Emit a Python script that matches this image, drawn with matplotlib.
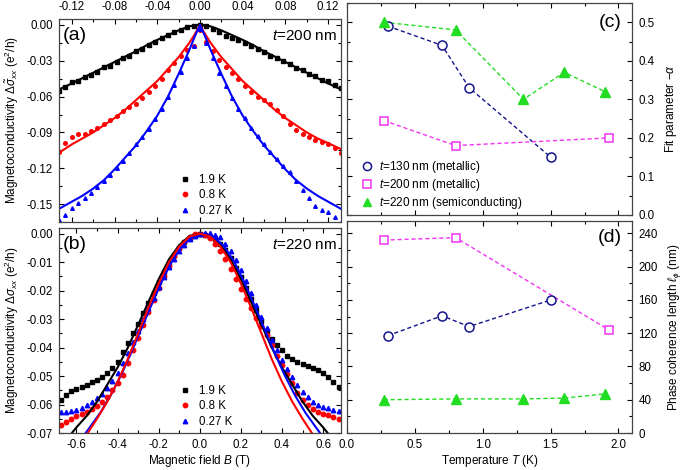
import matplotlib
matplotlib.use("Agg")
import matplotlib.pyplot as plt
from matplotlib.ticker import MultipleLocator, FormatStrFormatter

plt.rcParams['font.family'] = ['Liberation Sans', 'DejaVu Sans']
plt.rcParams['mathtext.fontset'] = 'custom'
plt.rcParams['mathtext.rm'] = 'Liberation Sans'
plt.rcParams['mathtext.it'] = 'Liberation Sans:italic'
plt.rcParams['mathtext.bf'] = 'Liberation Sans:bold'
plt.rcParams['axes.unicode_minus'] = False

# ---- panel (a): t = 200 nm, data -----------------------------------------
field_a = [-0.132, -0.126, -0.120, -0.114, -0.108, -0.102, -0.096, -0.090, -0.084,
           -0.078, -0.072, -0.066, -0.060, -0.054, -0.048, -0.042, -0.036, -0.030,
           -0.024, -0.018, -0.012, -0.006, 0.000, 0.006, 0.012, 0.018, 0.024, 0.030,
           0.036, 0.042, 0.048, 0.054, 0.060, 0.066, 0.072, 0.078, 0.084, 0.090,
           0.096, 0.102, 0.108, 0.114, 0.120, 0.126, 0.132]
a_19K = [-0.055, -0.052, -0.048, -0.047, -0.044, -0.042, -0.039, -0.035, -0.034,
         -0.031, -0.028, -0.026, -0.022, -0.020, -0.017, -0.014, -0.011, -0.008,
         -0.006, -0.004, -0.002, -0.001, 0.000, -0.001, -0.003, -0.006, -0.009, -0.011,
         -0.013, -0.015, -0.018, -0.020, -0.023, -0.026, -0.028, -0.030, -0.033, -0.036,
         -0.038, -0.041, -0.043, -0.046, -0.047, -0.050, -0.053]
a_08K = [-0.106, -0.099, -0.094, -0.091, -0.091, -0.089, -0.086, -0.083, -0.080,
         -0.076, -0.072, -0.069, -0.066, -0.061, -0.056, -0.051, -0.045, -0.038,
         -0.032, -0.026, -0.021, -0.018, -0.004, -0.014, -0.022, -0.029, -0.035, -0.040,
         -0.045, -0.051, -0.056, -0.060, -0.063, -0.066, -0.071, -0.076, -0.083, -0.088,
         -0.091, -0.094, -0.096, -0.098, -0.100, -0.103, -0.107]
a_027K = [-0.163, -0.159, -0.153, -0.149, -0.145, -0.141, -0.136, -0.131, -0.126,
          -0.120, -0.114, -0.107, -0.100, -0.094, -0.087, -0.079, -0.070, -0.060,
          -0.050, -0.039, -0.028, -0.018, -0.003, -0.015, -0.028, -0.040, -0.051, -0.061,
          -0.070, -0.078, -0.086, -0.093, -0.100, -0.106, -0.112, -0.118, -0.123, -0.131,
          -0.138, -0.145, -0.152, -0.155, -0.157, -0.161, -0.166]

# fits (a)
fit_field_a = [-0.132, -0.12, -0.11, -0.10, -0.09, -0.08, -0.07, -0.06, -0.05, -0.04,
               -0.03, -0.02, -0.01, -0.005, 0.0, 0.005, 0.01, 0.02, 0.03, 0.04, 0.05,
               0.06, 0.07, 0.08, 0.09, 0.10, 0.11, 0.12, 0.132]
fit_a_19K = [-0.054, -0.049, -0.0445, -0.040, -0.0355, -0.031, -0.0265, -0.022, -0.017,
             -0.0125, -0.0085, -0.0045, -0.0012, -0.0003, 0.0, -0.0003, -0.0012, -0.0045,
             -0.0085, -0.0125, -0.017, -0.022, -0.0265, -0.031, -0.0355, -0.040, -0.0445,
             -0.049, -0.054]
fit_a_08K = [-0.107, -0.100, -0.095, -0.090, -0.084, -0.078, -0.071, -0.063, -0.055,
             -0.047, -0.037, -0.027, -0.015, -0.008, 0.0, -0.008, -0.015, -0.027, -0.037,
             -0.047, -0.055, -0.063, -0.071, -0.078, -0.084, -0.090, -0.095, -0.099, -0.104]
fit_a_027K = [-0.154, -0.148, -0.143, -0.137, -0.130, -0.121, -0.111, -0.101, -0.089,
              -0.076, -0.060, -0.041, -0.021, -0.010, 0.0, -0.010, -0.021, -0.041, -0.060,
              -0.076, -0.089, -0.101, -0.111, -0.121, -0.130, -0.137, -0.143, -0.148, -0.154]

# ---- panel (b): t = 220 nm, data -----------------------------------------
field_b = [-0.675, -0.650, -0.625, -0.600, -0.575, -0.550, -0.525, -0.500, -0.475,
           -0.450, -0.425, -0.400, -0.375, -0.350, -0.325, -0.300, -0.275, -0.250,
           -0.225, -0.200, -0.175, -0.150, -0.125, -0.100, -0.075, -0.050, -0.025,
           0.000, 0.025, 0.050, 0.075, 0.100, 0.125, 0.150, 0.175, 0.200, 0.225,
           0.250, 0.275, 0.300, 0.325, 0.350, 0.375, 0.400, 0.425, 0.450, 0.475,
           0.500, 0.525, 0.550, 0.575, 0.600, 0.625, 0.650, 0.675]
b_19K = [-0.0583, -0.0565, -0.0553, -0.0545, -0.0537, -0.0530, -0.0522, -0.0514, -0.0503,
         -0.0490, -0.0472, -0.0450, -0.0415, -0.0385, -0.0350, -0.0318, -0.0280, -0.0245,
         -0.0207, -0.0170, -0.0133, -0.0102, -0.0075, -0.0050, -0.0030, -0.0015, -0.0005,
         0.0000, -0.0003, -0.0010, -0.0020, -0.0035, -0.0058, -0.0086, -0.0120, -0.0152,
         -0.0190, -0.0228, -0.0268, -0.0305, -0.0340, -0.0370, -0.0392, -0.0410, -0.0428,
         -0.0440, -0.0450, -0.0458, -0.0465, -0.0472, -0.0480, -0.0490, -0.0505, -0.0520,
         -0.0540]
b_08K = [-0.0672, -0.0662, -0.0652, -0.0642, -0.0634, -0.0626, -0.0616, -0.0605, -0.0590,
         -0.0572, -0.0550, -0.0523, -0.0495, -0.0455, -0.0410, -0.0365, -0.0320, -0.0275,
         -0.0232, -0.0190, -0.0150, -0.0112, -0.0080, -0.0052, -0.0030, -0.0012, -0.0002,
         -0.0002, -0.0005, -0.0015, -0.0035, -0.0060, -0.0090, -0.0123, -0.0158, -0.0195,
         -0.0228, -0.0260, -0.0295, -0.0325, -0.0357, -0.0392, -0.0428, -0.0462, -0.0492,
         -0.0525, -0.0560, -0.0585, -0.0602, -0.0615, -0.0625, -0.0632, -0.0638, -0.0643,
         -0.0650]
b_027K = [-0.0627, -0.0625, -0.0622, -0.0618, -0.0612, -0.0603, -0.0592, -0.0578, -0.0562,
          -0.0542, -0.0518, -0.0490, -0.0455, -0.0418, -0.0380, -0.0340, -0.0300, -0.0262,
          -0.0225, -0.0188, -0.0152, -0.0118, -0.0088, -0.0060, -0.0038, -0.0020, -0.0008,
          0.0000, 0.0002, 0.0002, -0.0003, -0.0012, -0.0035, -0.0060, -0.0092, -0.0128,
          -0.0165, -0.0210, -0.0250, -0.0292, -0.0332, -0.0372, -0.0408, -0.0442, -0.0475,
          -0.0505, -0.0532, -0.0556, -0.0575, -0.0590, -0.0600, -0.0608, -0.0613, -0.0618,
          -0.0622]

# fits (b)
fit_field_b = [-0.65, -0.60, -0.55, -0.50, -0.45, -0.40, -0.35, -0.30, -0.25, -0.20,
               -0.15, -0.10, -0.05, 0.0, 0.05, 0.10, 0.15, 0.20, 0.25, 0.30, 0.35,
               0.40, 0.45, 0.50, 0.55, 0.60, 0.65]
fit_b_19K = [-0.0725, -0.068, -0.064, -0.059, -0.053, -0.047, -0.040, -0.032, -0.024,
             -0.016, -0.009, -0.004, -0.0008, 0.0, -0.0008, -0.004, -0.009, -0.016, -0.024,
             -0.032, -0.040, -0.047, -0.053, -0.059, -0.064, -0.068, -0.0725]
fit_b_08K = [-0.082, -0.076, -0.0705, -0.065, -0.059, -0.052, -0.044, -0.035, -0.026,
             -0.0175, -0.010, -0.0045, -0.001, 0.0, -0.001, -0.0045, -0.010, -0.0175,
             -0.026, -0.035, -0.044, -0.052, -0.059, -0.065, -0.0705, -0.076, -0.082]
fit_field_b_027K = [-0.635, -0.585, -0.535, -0.485, -0.435, -0.385, -0.335, -0.285,
                    -0.235, -0.185, -0.135, -0.085, -0.035, 0.015, 0.065, 0.115, 0.165,
                    0.215, 0.265, 0.315, 0.365, 0.415, 0.465, 0.515, 0.565, 0.615, 0.665]
fit_b_027K = [-0.078, -0.073, -0.068, -0.063, -0.057, -0.050, -0.042, -0.0335, -0.025,
              -0.0168, -0.0095, -0.0042, -0.001, 0.0, -0.001, -0.0042, -0.0095, -0.0168,
              -0.025, -0.0335, -0.042, -0.050, -0.057, -0.063, -0.068, -0.073, -0.078]

# ---- panels (c), (d) ------------------------------------------------------
T_130 = [0.3, 0.7, 0.9, 1.5]
alpha_130 = [0.49, 0.44, 0.33, 0.15]
lphi_130 = [117, 141, 128, 160]
T_200 = [0.27, 0.8, 1.93]
alpha_200 = [0.245, 0.18, 0.2]
lphi_200 = [232, 235, 124]
T_220 = [0.27, 0.8, 1.3, 1.6, 1.9]
alpha_220 = [0.5, 0.48, 0.3, 0.37, 0.32]
lphi_220 = [40, 41, 41, 42, 47]

navy = '#14148c'
magenta = '#f034f0'
green = '#22dd22'

fig = plt.figure(figsize=(6.85, 4.70), dpi=100)
ax_a = fig.add_axes([0.0861, 0.5277, 0.4117, 0.4319])
ax_b = fig.add_axes([0.0861, 0.0787, 0.4117, 0.4362])
ax_c = fig.add_axes([0.5066, 0.5426, 0.4161, 0.4511])
ax_d = fig.add_axes([0.5066, 0.0787, 0.4161, 0.4511])

for ax in (ax_a, ax_b, ax_c, ax_d):
    ax.tick_params(which='both', direction='in', top=True, right=True,
                   labelsize=8.3, width=0.8)
    ax.tick_params(which='major', length=3.5, pad=4.5)
    ax.tick_params(which='minor', length=2)
    for s in ax.spines.values():
        s.set_linewidth(0.9)
        s.set_color('#444444')

ms_a = 2.6
ax_a.plot(field_a, a_19K, 's', color='black', ms=ms_a, label='1.9 K')
ax_a.plot(field_a, a_08K, 'o', color='red', ms=ms_a, label='0.8 K')
ax_a.plot(field_a, a_027K, '^', color='blue', ms=ms_a, label='0.27 K')
ax_a.plot(fit_field_a, fit_a_19K, '-', color='black', lw=1.5)
ax_a.plot(fit_field_a, fit_a_08K, '-', color='red', lw=1.5)
ax_a.plot(fit_field_a, fit_a_027K, '-', color='blue', lw=1.5)
ax_a.set_xlim(-0.132, 0.132)
ax_a.set_ylim(-0.165, 0.005)
ax_a.xaxis.set_major_locator(MultipleLocator(0.04))
ax_a.xaxis.set_minor_locator(MultipleLocator(0.02))
ax_a.yaxis.set_major_locator(MultipleLocator(0.03))
ax_a.yaxis.set_minor_locator(MultipleLocator(0.015))
ax_a.xaxis.set_major_formatter(FormatStrFormatter('%.2f'))
ax_a.yaxis.set_major_formatter(FormatStrFormatter('%.2f'))
ax_a.tick_params(labeltop=True, labelbottom=False)
ax_a.set_ylabel(r'Magnetoconductivity $\Delta\tilde{\sigma}_{xx}$ (e$^2$/h)', fontsize=8.5)
ax_a.text(0.014, 0.92, '(a)', transform=ax_a.transAxes, fontsize=14, va='center')
ax_a.text(0.985, 0.915, r'$t$=200 nm', transform=ax_a.transAxes, fontsize=11,
          ha='right', va='center')
ax_a.legend(loc='lower left', bbox_to_anchor=(0.385, -0.025), frameon=False, fontsize=8.3,
            handlelength=1.2, handletextpad=0.6, labelspacing=0.3, markerscale=1.2)

ms_b = 3.2
ax_b.plot(field_b, b_19K, 's', color='black', ms=ms_b, label='1.9 K')
ax_b.plot(field_b, b_08K, 'o', color='red', ms=ms_b, label='0.8 K')
ax_b.plot(field_b, b_027K, '^', color='blue', ms=ms_b, label='0.27 K')
ax_b.plot(fit_field_b, fit_b_19K, '-', color='black', lw=1.5)
ax_b.plot(fit_field_b_027K, fit_b_027K, '-', color='blue', lw=1.5)
ax_b.plot(fit_field_b, fit_b_08K, '-', color='red', lw=1.5)
ax_b.set_xlim(-0.685, 0.687)
ax_b.set_ylim(-0.07, 0.002)
ax_b.xaxis.set_major_locator(MultipleLocator(0.2))
ax_b.xaxis.set_minor_locator(MultipleLocator(0.1))
ax_b.yaxis.set_major_locator(MultipleLocator(0.01))
ax_b.yaxis.set_minor_locator(MultipleLocator(0.005))
ax_b.xaxis.set_major_formatter(FormatStrFormatter('%.1f'))
ax_b.yaxis.set_major_formatter(FormatStrFormatter('%.2f'))
ax_b.set_xlabel(r'Magnetic field $B$ (T)', fontsize=8.5, labelpad=1.5)
ax_b.set_ylabel(r'Magnetoconductivity $\Delta\sigma_{xx}$ (e$^2$/h)', fontsize=8.5)
ax_b.text(0.014, 0.92, '(b)', transform=ax_b.transAxes, fontsize=14, va='center')
ax_b.text(0.985, 0.915, r'$t$=220 nm', transform=ax_b.transAxes, fontsize=11,
          ha='right', va='center')
ax_b.legend(loc='lower left', bbox_to_anchor=(0.385, -0.025), frameon=False, fontsize=8.3,
            handlelength=1.2, handletextpad=0.6, labelspacing=0.3)

dash = (0, (3, 2))
for ax, y130, y200, y220 in ((ax_c, alpha_130, alpha_200, alpha_220),
                             (ax_d, lphi_130, lphi_200, lphi_220)):
    ax.plot(T_130, y130, color=navy, ls=dash, lw=1)
    ax.plot(T_200, y200, color=magenta, ls=dash, lw=1)
    ax.plot(T_220, y220, color=green, ls=dash, lw=1)
    ax.plot(T_130, y130, 'o', mfc='white', mec=navy, mew=1.1, ms=6.5, ls='none',
            label=r'$t$=130 nm (metallic)')
    ax.plot(T_200, y200, 's', mfc='white', mec=magenta, mew=1.1, ms=6.3, ls='none',
            label=r'$t$=200 nm (metallic)')
    ax.plot(T_220, y220, '^', color=green, ms=7, ls='none',
            label=r'$t$=220 nm (semiconducting)')
    ax.set_xlim(0, 2.1)
    ax.xaxis.set_major_locator(MultipleLocator(0.5))
    ax.xaxis.set_minor_locator(MultipleLocator(0.25))
    ax.xaxis.set_major_formatter(FormatStrFormatter('%.1f'))
    ax.tick_params(labelleft=False, labelright=True)
    ax.yaxis.set_label_position('right')

ax_c.set_ylim(0, 0.55)
ax_c.yaxis.set_major_locator(MultipleLocator(0.1))
ax_c.yaxis.set_minor_locator(MultipleLocator(0.05))
ax_c.yaxis.set_major_formatter(FormatStrFormatter('%.1f'))
ax_c.tick_params(labelbottom=False)
ax_c.set_ylabel(r'Fit parameter $-\alpha$', fontsize=8.5, labelpad=6)
ax_c.text(0.965, 0.91, '(c)', transform=ax_c.transAxes, fontsize=14, ha='right',
          va='center')
ax_c.legend(loc='lower left', bbox_to_anchor=(0.012, -0.03), frameon=False, fontsize=8.5,
            handlelength=1.0, handletextpad=0.55, labelspacing=0.15, markerscale=0.9)

ax_d.set_ylim(0, 255)
ax_d.yaxis.set_major_locator(MultipleLocator(40))
ax_d.yaxis.set_minor_locator(MultipleLocator(20))
ax_d.set_xlabel(r'Temperature $T$ (K)', fontsize=8.5, labelpad=1.5)
ax_d.set_ylabel(r'Phase coherence length $\ell_\phi$ (nm)', fontsize=8.5, labelpad=6)
ax_d.text(0.965, 0.92, '(d)', transform=ax_d.transAxes, fontsize=14, ha='right',
          va='center')

fig.savefig('out.png', dpi=100)
